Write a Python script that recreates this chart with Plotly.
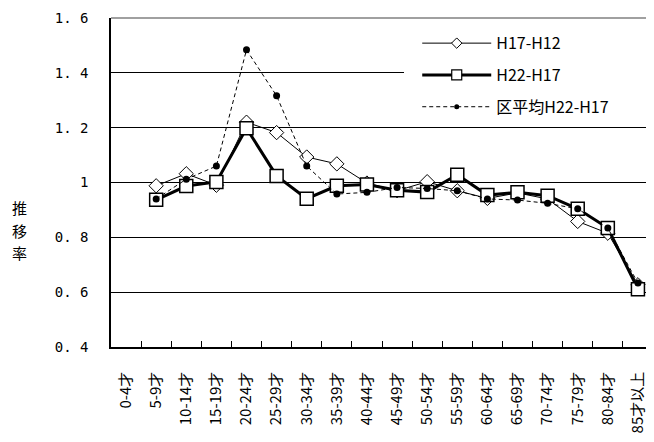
import plotly.graph_objects as go

categories = ["0-4才", "5-9才", "10-14才", "15-19才", "20-24才", "25-29才", "30-34才",
              "35-39才", "40-44才", "45-49才", "50-54才", "55-59才", "60-64才", "65-69才",
              "70-74才", "75-79才", "80-84才", "85才以上"]

h17_h12 = [None, 0.988, 1.032, 0.990, 1.220, 1.182, 1.093, 1.068, 0.998, 0.970,
           1.003, 0.970, 0.942, 0.962, 0.940, 0.858, 0.815, 0.627]
h22_h17 = [None, 0.937, 0.987, 1.002, 1.198, 1.024, 0.941, 0.988, 0.993, 0.972,
           0.965, 1.028, 0.954, 0.964, 0.952, 0.904, 0.834, 0.611]
ku_avg = [None, 0.940, 1.012, 1.060, 1.484, 1.316, 1.060, 0.958, 0.964, 0.982,
          0.978, 0.970, 0.940, 0.936, 0.924, 0.904, 0.834, 0.633]

series_names = ["H17-H12", "H22-H17", "区平均H22-H17"]

ytick_vals = [0.4, 0.6, 0.8, 1.0, 1.2, 1.4, 1.6]
ytick_text = ["0. 4", "0. 6", "0. 8", "1", "1. 2", "1. 4", "1. 6"]

y_title_chars = ["推", "移", "率"]

FONT = "Noto Sans CJK JP"

styles = [
    dict(line=dict(color="black", width=1),
         marker=dict(symbol="diamond", size=11, color="white", line=dict(color="black", width=1)),
         lmarker=dict(symbol="diamond", size=8, color="white", line=dict(color="black", width=1))),
    dict(line=dict(color="black", width=3),
         marker=dict(symbol="square", size=13, color="white", line=dict(color="black", width=1.5)),
         lmarker=dict(symbol="square", size=10, color="white", line=dict(color="black", width=1.2))),
    dict(line=dict(color="black", width=1, dash="4px,3px"),
         marker=dict(symbol="circle", size=7, color="black"),
         lmarker=dict(symbol="circle", size=5, color="black")),
]

fig = go.Figure()
for name, vals, st in zip(series_names, [h17_h12, h22_h17, ku_avg], styles):
    fig.add_trace(go.Scatter(
        x=categories, y=vals, name=name, mode="lines+markers",
        line=st["line"], marker=st["marker"], showlegend=False, hoverinfo="x+y"))
for name, st, grp in zip(series_names, styles, ["a", "b", "c"]):
    fig.add_trace(go.Scatter(
        x=[None], y=[None], name=name, mode="lines+markers",
        line=st["line"], marker=st["lmarker"], legendgroup=grp, showlegend=True))

annotations = []
for i, ch in enumerate(y_title_chars):
    annotations.append(dict(
        text=ch, xref="paper", yref="paper", x=-0.168, y=0.4225 - i * 0.0669,
        xanchor="center", yanchor="middle", showarrow=False,
        font=dict(family=FONT, size=15, color="black")))

# page body has an 8px margin, so the figure is made 8px smaller on each axis
fig.update_layout(
    width=646, height=434,
    margin=dict(l=103, r=1, t=10, b=95, autoexpand=False),
    paper_bgcolor="white", plot_bgcolor="white",
    font=dict(family=FONT, color="black"),
    showlegend=True,
    legend=dict(
        x=0.565, y=0.975, xanchor="left", yanchor="top",
        bgcolor="rgba(0,0,0,0)", borderwidth=0,
        font=dict(family=FONT, size=16, color="black"),
        itemwidth=69, traceorder="grouped", tracegroupgap=8,
        itemclick=False, itemdoubleclick=False,
    ),
    xaxis=dict(
        type="category", categoryorder="array", categoryarray=categories,
        range=[-0.5, 17.5], automargin=False,
        showgrid=False, showline=True, linecolor="black", linewidth=1.5,
        ticks="inside", tickson="boundaries", ticklen=6, tickcolor="black", tickwidth=1,
        tickangle=-90, tickfont=dict(family=FONT, size=15, color="black"),
        ticklabelstandoff=17,
        zeroline=False,
    ),
    yaxis=dict(
        range=[0.4, 1.6], tickvals=ytick_vals, ticktext=ytick_text, automargin=False,
        showgrid=True, gridcolor="black", gridwidth=1,
        showline=True, linecolor="black", linewidth=1.5,
        ticks="", tickfont=dict(family="DejaVu Sans Mono", size=14, color="black"),
        ticklabelstandoff=18, zeroline=False,
    ),
    shapes=[
        dict(type="line", xref="paper", yref="paper", x0=0, x1=1, y0=1, y1=1,
             line=dict(color="#808080", width=1.5), layer="above"),
        dict(type="line", xref="paper", yref="paper", x0=1, x1=1, y0=0, y1=1,
             line=dict(color="#808080", width=1.5), layer="below"),
        dict(type="rect", xref="paper", yref="paper", x0=0.5406, x1=1.01, y0=0.696, y1=0.99,
             fillcolor="white", line=dict(width=0), layer="above"),
    ],
    annotations=annotations,
)

fig.write_html("out.html")
